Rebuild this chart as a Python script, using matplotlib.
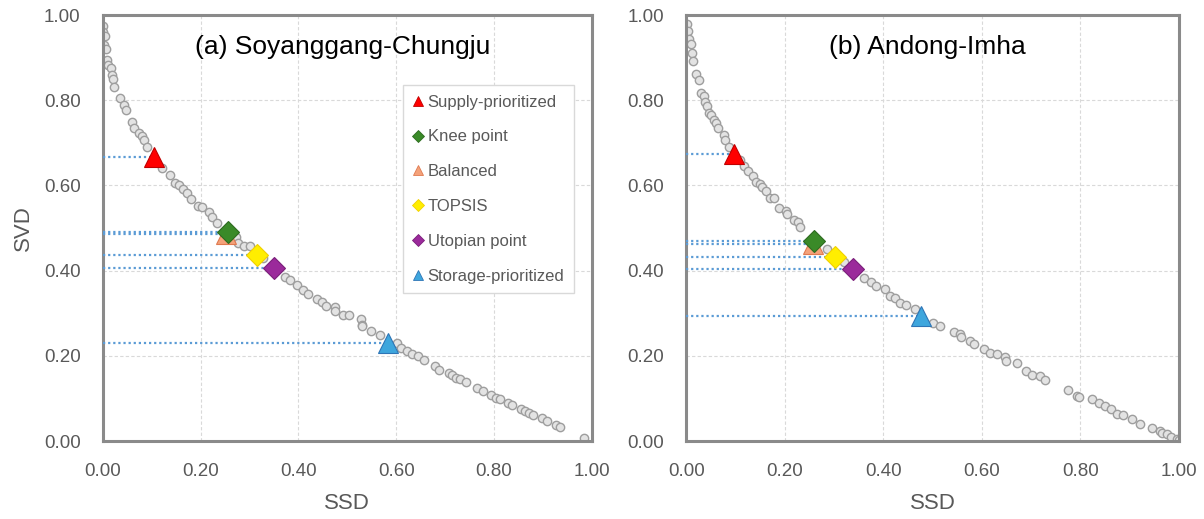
import matplotlib
matplotlib.use("Agg")
import matplotlib.pyplot as plt
from matplotlib.lines import Line2D

plt.rcParams["font.family"] = ["Liberation Sans", "DejaVu Sans"]

# Pareto front, panel (a) Soyanggang-Chungju
ssd_a = [0.0, 0.0, 0.004, 0.002, 0.006, 0.008, 0.01, 0.016, 0.018, 0.02, 0.023, 0.035, 0.043, 0.047,
         0.06, 0.064, 0.074, 0.08, 0.084, 0.09, 0.121, 0.137, 0.148, 0.156, 0.164, 0.172, 0.18,
         0.195, 0.203, 0.217, 0.223, 0.234, 0.272, 0.277, 0.289, 0.3, 0.328, 0.373, 0.383, 0.398,
         0.41, 0.42, 0.4375, 0.449, 0.457, 0.475, 0.475, 0.492, 0.504, 0.527, 0.529, 0.53, 0.548,
         0.566, 0.602, 0.609, 0.621, 0.633, 0.645, 0.656, 0.68, 0.688, 0.707, 0.715, 0.723, 0.73,
         0.742, 0.766, 0.777, 0.793, 0.805, 0.813, 0.828, 0.836, 0.855, 0.863, 0.871, 0.879, 0.898,
         0.908, 0.926, 0.936, 0.984]
svd_a = [0.974, 0.96, 0.95, 0.93, 0.92, 0.895, 0.883, 0.875, 0.86, 0.85, 0.83, 0.805, 0.79, 0.777,
         0.748, 0.734, 0.723, 0.715, 0.707, 0.69, 0.64, 0.625, 0.605, 0.6, 0.591, 0.582, 0.568,
         0.552, 0.549, 0.537, 0.527, 0.513, 0.479, 0.465, 0.459, 0.457, 0.43, 0.385, 0.379, 0.367,
         0.355, 0.346, 0.334, 0.326, 0.318, 0.316, 0.305, 0.297, 0.295, 0.287, 0.273, 0.27, 0.258,
         0.248, 0.23, 0.219, 0.211, 0.205, 0.199, 0.191, 0.176, 0.168, 0.16, 0.156, 0.148, 0.145,
         0.138, 0.125, 0.117, 0.109, 0.102, 0.098, 0.09, 0.084, 0.076, 0.07, 0.066, 0.0625, 0.055,
         0.047, 0.039, 0.034, 0.008]

# Pareto front, panel (b) Andong-Imha
ssd_b = [0.002, 0.004, 0.006, 0.009, 0.012, 0.014, 0.02, 0.025, 0.03, 0.035, 0.039, 0.043, 0.047,
         0.051, 0.056, 0.061, 0.065, 0.077, 0.078, 0.086, 0.11, 0.118, 0.125, 0.135, 0.141, 0.149,
         0.153, 0.161, 0.169, 0.179, 0.188, 0.202, 0.205, 0.218, 0.227, 0.231, 0.286, 0.32, 0.361,
         0.376, 0.386, 0.404, 0.414, 0.424, 0.435, 0.447, 0.465, 0.502, 0.516, 0.543, 0.555, 0.557,
         0.576, 0.584, 0.604, 0.616, 0.631, 0.647, 0.649, 0.671, 0.689, 0.702, 0.718, 0.728, 0.775,
         0.794, 0.798, 0.824, 0.839, 0.851, 0.863, 0.875, 0.886, 0.906, 0.922, 0.945, 0.963, 0.967,
         0.976, 0.984, 0.996, 1.0]
svd_b = [0.979, 0.963, 0.943, 0.932, 0.91, 0.893, 0.861, 0.847, 0.817, 0.809, 0.796, 0.786, 0.769,
         0.765, 0.753, 0.747, 0.736, 0.718, 0.706, 0.69, 0.659, 0.645, 0.634, 0.622, 0.608, 0.604,
         0.596, 0.587, 0.571, 0.571, 0.547, 0.54, 0.533, 0.518, 0.514, 0.502, 0.451, 0.42, 0.384,
         0.373, 0.365, 0.357, 0.341, 0.335, 0.325, 0.32, 0.31, 0.278, 0.271, 0.257, 0.251, 0.245,
         0.235, 0.227, 0.216, 0.208, 0.205, 0.198, 0.187, 0.184, 0.165, 0.155, 0.153, 0.143, 0.119,
         0.106, 0.104, 0.098, 0.09, 0.082, 0.075, 0.064, 0.061, 0.051, 0.041, 0.031, 0.024, 0.02,
         0.016, 0.009, 0.006, 0.002]

# selected solutions (Supply, Knee, Balanced, TOPSIS, Utopian, Storage)
sel_names = ["Supply-prioritized", "Knee point", "Balanced", "TOPSIS", "Utopian point", "Storage-prioritized"]
sel_ssd_a = [0.105, 0.255, 0.251, 0.315, 0.349, 0.584]
sel_svd_a = [0.666, 0.492, 0.486, 0.437, 0.406, 0.231]
sel_ssd_b = [0.096, 0.259, 0.257, 0.302, 0.339, 0.477]
sel_svd_b = [0.673, 0.470, 0.462, 0.433, 0.403, 0.294]

sel_marker = ["^", "D", "^", "D", "D", "^"]
sel_color = ["#FF0000", "#3A8A28", "#F4A27A", "#FFEE00", "#9B2A9B", "#3EA6DD"]
sel_edge = ["#C00000", "#2E6B20", "#E07A50", "#F0D000", "#7A1F7A", "#2E75B6"]
sel_size = [14, 11, 14, 11, 11, 14]
sel_z = [5, 6, 5, 6, 6, 5]

GRAY = "#595959"


def draw_panel(ax, x, y, sx, sy, title):
    for v in [0.2, 0.4, 0.6, 0.8]:
        ax.axvline(v, color="#D9D9D9", lw=0.8, ls=(0, (3, 2)), zorder=0)
        ax.axhline(v, color="#D9D9D9", lw=0.8, ls=(0, (3, 2)), zorder=0)
    ax.plot(x, y, "o", ms=6, mfc="#E3E3E3", mec="#9E9E9E", mew=1.0, zorder=2)
    for i in range(len(sx)):
        ax.plot([0, sx[i]], [sy[i], sy[i]], color="#5B9BD5", lw=1.6, ls=(0, (1, 1.3)), zorder=3)
    for i in range(len(sx)):
        ax.plot(sx[i], sy[i], sel_marker[i], ms=sel_size[i], color=sel_color[i],
                mec=sel_edge[i], mew=0.8, zorder=sel_z[i])
    ax.set_xlim(0, 1)
    ax.set_ylim(0, 1)
    ticks = [0, 0.2, 0.4, 0.6, 0.8, 1.0]
    ax.set_xticks(ticks, [f"{t:.2f}" for t in ticks])
    ax.set_yticks(ticks, [f"{t:.2f}" for t in ticks])
    ax.tick_params(length=0, labelsize=13.5, labelcolor=GRAY, pad=16)
    for s in ax.spines.values():
        s.set_color("#8A8A8A")
        s.set_linewidth(2.2)
    ax.set_xlabel("SSD", fontsize=16, color=GRAY, labelpad=9)
    ax.text(0.49, 0.925, title, ha="center", va="center", fontsize=19, color="black",
            transform=ax.transAxes)


fig = plt.figure(figsize=(12.04, 5.19), dpi=100)
ax1 = fig.add_axes([0.0855, 0.15, 0.406, 0.821])
ax2 = fig.add_axes([0.570, 0.15, 0.409, 0.821])

draw_panel(ax1, ssd_a, svd_a, sel_ssd_a, sel_svd_a, "(a) Soyanggang-Chungju")
draw_panel(ax2, ssd_b, svd_b, sel_ssd_b, sel_svd_b, "(b) Andong-Imha")
ax1.set_ylabel("SVD", fontsize=16, color=GRAY, labelpad=7)

handles = [Line2D([], [], ls="", marker=sel_marker[i], ms=7.5 if sel_marker[i] == "^" else 6.5,
                  color=sel_color[i], mec=sel_edge[i], mew=0.6) for i in range(len(sel_names))]
leg = ax1.legend(handles, sel_names, loc="upper left", bbox_to_anchor=(0.613, 0.835),
                 fontsize=12, labelspacing=1.19, handlelength=0.7, handletextpad=0.25,
                 borderpad=0.55, borderaxespad=0, fancybox=False, framealpha=1, edgecolor="#D9D9D9")
for t in leg.get_texts():
    t.set_color(GRAY)

fig.savefig("out.png", dpi=100)
